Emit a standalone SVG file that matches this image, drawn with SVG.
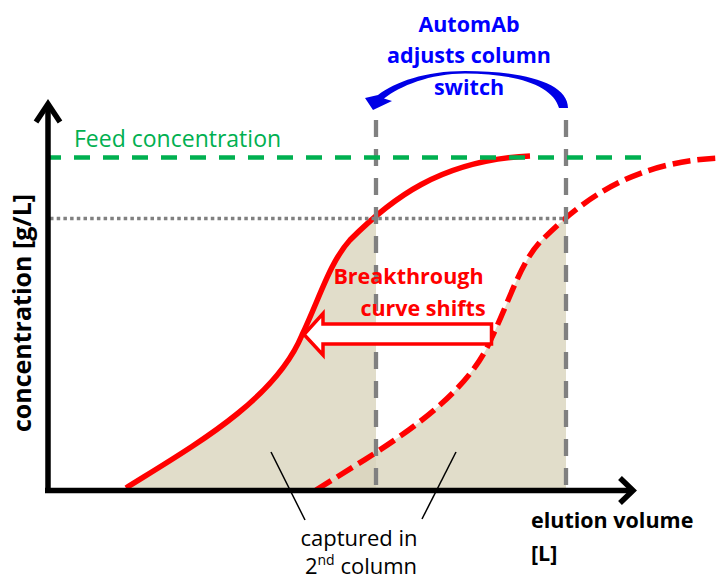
<svg xmlns="http://www.w3.org/2000/svg" width="718" height="581" viewBox="0 0 718 581">
<defs>
<style>
.fill{fill:#d9d5bd;fill-opacity:0.8;stroke:none}
.curve{fill:none;stroke:#ff0000;stroke-width:5.5}
.dashcurve{stroke-dasharray:18 7}
.vline{stroke:#808080;stroke-width:4.3;stroke-dasharray:17 12;fill:none}
.dotted{stroke:#808080;stroke-width:3.5;stroke-dasharray:3.5 3.2;fill:none}
.feed{stroke:#00b050;stroke-width:4.5;stroke-dasharray:16 13;stroke-dashoffset:5;fill:none}
.axis{stroke:#000;stroke-width:5.5;fill:none;stroke-linejoin:miter}
.leader{stroke:#000;stroke-width:1.5}
.bold{font-family:"Open Sans","Liberation Sans",sans-serif;font-weight:bold}
.reg{font-family:"Open Sans","Liberation Sans",sans-serif}
</style>
</defs>
<g id="areas">
<path id="area1" class="fill" d="M126,488 C195,445 275,400 302,335 C320,297 330,262 350,240 C358,232 366.4,224 375.44,216.3 L376,216.3 L376,490 L126,490 Z"/>
<path id="area2" class="fill" transform="translate(190,2)" d="M126,488 C195,445 275,400 302,335 C320,297 330,262 350,240 C358,232 366.4,224 375.44,216.3 L376,216.3 L376,488 L126,488 Z"/>
</g>
<g id="curves">
<path id="curve-solid" class="curve" d="M126,488 C195,445 275,400 302,335 C320,297 330,262 350,240 C390,200 440,160 530,156"/>
<path id="curve-dashed" class="curve dashcurve" transform="translate(190,2)" d="M126,488 C195,445 275,400 302,335 C320,297 330,262 350,240 C390,200 440,160 530,156"/>
</g>
<g id="guides">
<line class="dotted" x1="50" y1="218.5" x2="566" y2="218.5"/>
<line class="vline" x1="376" y1="120" x2="376" y2="489"/>
<line class="vline" x1="566" y1="120" x2="566" y2="489"/>
<line id="feed-line" class="feed" x1="50" y1="157.5" x2="641" y2="157.5"/>
</g>
<g id="shift-arrow">
<path d="M304,334.5 L323,313.5 L323,324 L491.5,324 L491.5,344 L323,344 L323,355 Z" fill="#ffffff" stroke="#ff0000" stroke-width="3.5" stroke-linejoin="miter"/>
</g>
<g id="axes">
<path class="axis" d="M48,490.5 L48,104"/>
<path class="axis" d="M36,122 L48,104 L60,122"/>
<path class="axis" d="M45,490.5 L630,490.5"/>
<path class="axis" d="M620,478 L633,490.5 L620,503"/>
</g>
<g id="leaders">
<line class="leader" x1="271" y1="452" x2="305" y2="520"/>
<line class="leader" x1="456" y1="452" x2="422" y2="519"/>
</g>
<g id="switch-arrow">
<path d="M568,108 C568,82 520,71 465,71 C425,71 395,82 378,95 L365,98 L373,110 L392,101 L384,98.5 C400,86 430,73.5 465,73.5 C515,73.5 553,85 559,108 Z" fill="#0000e6"/>
</g>
<g id="labels">
<text class="bold" x="469" y="32" font-size="21.5" fill="#0000ff" text-anchor="middle">AutomAb</text>
<text class="bold" x="469" y="63" font-size="21.5" fill="#0000ff" text-anchor="middle">adjusts column</text>
<text class="bold" x="469" y="95" font-size="21.5" fill="#0000ff" text-anchor="middle">switch</text>
<text class="reg" x="74" y="147" font-size="23" fill="#00b050">Feed concentration</text>
<text class="bold" x="408.5" y="284" font-size="21.5" fill="#ff0000" text-anchor="middle">Breakthrough</text>
<text class="bold" x="423" y="316" font-size="21.5" fill="#ff0000" text-anchor="middle">curve shifts</text>
<text class="bold" transform="translate(31,313) rotate(-90)" font-size="25" fill="#000" text-anchor="middle">concentration [g/L]</text>
<text class="bold" x="531" y="528" font-size="21.5" fill="#000">elution volume</text>
<text class="bold" x="531" y="561" font-size="21.5" fill="#000">[L]</text>
<text class="reg" x="359" y="545.5" font-size="22" fill="#000" text-anchor="middle">captured in</text>
<text class="reg" x="361" y="574" font-size="22" fill="#000" text-anchor="middle">2<tspan font-size="14" dy="-9">nd</tspan><tspan dy="9"> column</tspan></text>
</g>
</svg>
